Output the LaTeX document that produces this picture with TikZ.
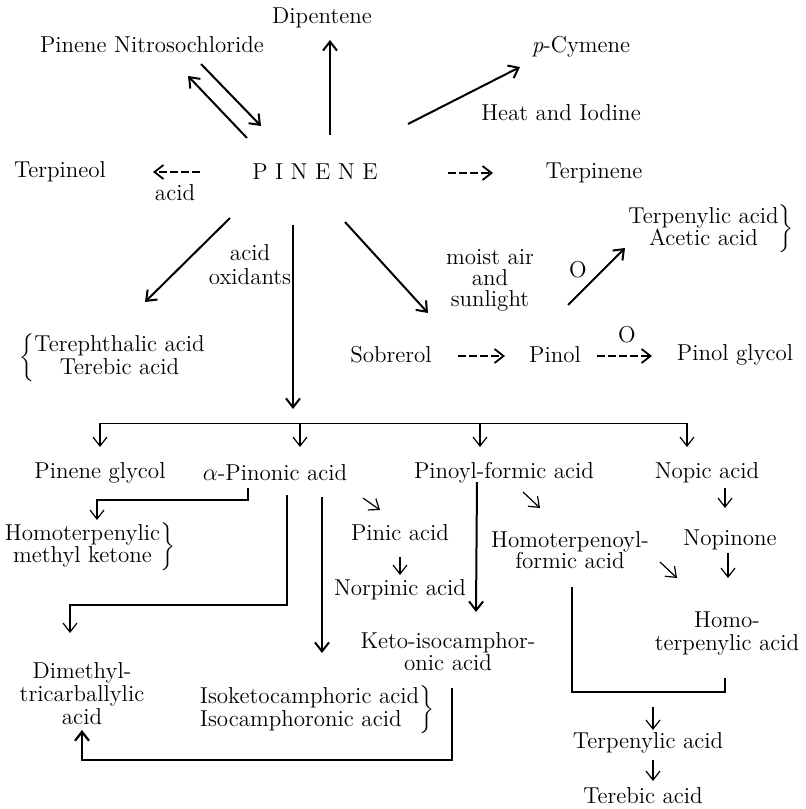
\documentclass[tikz,border=0pt]{standalone}
\usepackage{tikz}
\usetikzlibrary{arrows.meta,calc}

\begin{document}
\begin{tikzpicture}[
  x=0.5pt, y=-0.5pt,
  >={Straight Barb[length=4.5pt,width=7pt]},
  every node/.style={font=\fontsize{11.5}{11.5}\selectfont, inner sep=0pt, align=center},
  flowarrow/.style={->, line width=1pt},
  dasharrow/.style={->, line width=0.9pt, dash pattern=on 4pt off 1.5pt},
  thinline/.style={line width=0.5pt},
  thinarrow/.style={->, line width=0.6pt},
  bracketline/.style={line width=1.1pt}
]
\useasboundingbox (0,0) rectangle (806,809);

% Top - pinene and its direct products
\node (pinene) at (315,172) {P I N E N E};
\node (dipentene) at (322,18) {Dipentene};
\node (nitroso) at (152,45) {Pinene Nitrosochloride};
\node (cymene) at (581,47) {\textit{p}-Cymene};
\node (heat) at (561,113) {Heat and Iodine};
\node (terpinene) at (594,173) {Terpinene};
\node (terpineol) at (60,172) {Terpineol};
\node (acidlbl) at (175,193) {acid};

% Middle - oxidation and sunlight
\node (oxid) at (250,265) [font=\fontsize{11.5}{12}\selectfont] {acid\\oxidants};
\node (tereph) at (112,358) {$\biggl\{$\begin{tabular}{@{}c@{}}Terephthalic acid\\Terebic acid\end{tabular}};
\node (moist) at (490,280) [font=\fontsize{11.5}{10.5}\selectfont] {moist air\\and\\sunlight};
\node (sobrerol) at (391,355) {Sobrerol};
\node (pinol) at (555,355) {Pinol};
\node (pinolgly) at (735,355) {Pinol glycol};
\node (oxA) at (578,270) {O};
\node (oxB) at (627,335) {O};
\node (terpacet) at (711,229) [font=\fontsize{11.5}{9.5}\selectfont] {\begin{tabular}{@{}c@{}}Terpenylic acid\\Acetic acid\end{tabular}$\biggr\}$};

% Lower - products of the oxidation
\coordinate (split) at (293,423);
\coordinate (brL) at (100,423);
\coordinate (brR) at (687,423);
\node (pglycol) at (100,473) {Pinene glycol};
\node (pinonic) at (275,473) {$\alpha$-Pinonic acid};
\node (pinoyl) at (504,473) {Pinoyl-formic acid};
\node (nopic) at (707,473) {Nopic acid};
\node (homoket) at (90,547) [font=\fontsize{11.5}{10.5}\selectfont] {\begin{tabular}{@{}c@{}}Homoterpenylic\\methyl ketone\end{tabular}$\biggr\}$};
\node (pinic) at (400,533) {Pinic acid};
\node (norpinic) at (400,590) {Norpinic acid};
\node (homoformic) at (570,550) [font=\fontsize{11.5}{10.5}\selectfont] {Homoterpenoyl-\\formic acid};
\node (nopinone) at (730,540) {Nopinone};
\node (homoterp) at (727,633) {Homo-\\terpenylic acid};
\node (keto) at (448,652) [font=\fontsize{11.5}{11}\selectfont] {Keto-isocamphor-\\onic acid};
\node (dimethyl) at (82,694) {Dimethyl-\\tricarballylic\\acid};
\node (isoketo) at (317,710) [font=\fontsize{11.5}{11.5}\selectfont] {\begin{tabular}{@{}l@{}}Isoketocamphoric acid\\Isocamphoronic acid\end{tabular}$\biggr\}$};
\node (terpenylic) at (648,743) {Terpenylic acid};
\node (terebic) at (643,796) {Terebic acid};

% Arrows out of pinene
\draw[flowarrow] ($(pinene)+(15,-37)$) -- ($(dipentene)+(8,22)$);
\draw[flowarrow] ($(pinene)+(-68,-34)$) -- ($(nitroso)+(36,31)$);
\draw[flowarrow] ($(nitroso)+(49,19)$) -- ($(pinene)+(-54,-46)$);
\draw[flowarrow] ($(pinene)+(93,-48)$) -- ($(cymene)+(-61,20)$);
\draw[dasharrow] ($(pinene)+(133,1)$) -- ($(terpinene)+(-101,0)$);
\draw[dasharrow] ($(pinene)+(-115,0)$) -- ($(terpineol)+(93,0)$);
\draw[flowarrow] ($(pinene)+(-85,46)$) -- ($(tereph)+(33,-56)$);
\draw[flowarrow] ($(pinene)+(-22,53)$) -- ($(split)+(0,-14)$);
\draw[flowarrow] ($(pinene)+(30,50)$) -- ($(sobrerol)+(37,-42)$);

% Sobrerol - pinol chain
\draw[flowarrow] ($(pinol)+(13,-50)$) -- ($(terpacet)+(-86,19)$);
\draw[dasharrow] ($(sobrerol)+(67,1)$) -- ($(pinol)+(-50,1)$);
\draw[dasharrow] ($(pinol)+(42,1)$) -- ($(pinolgly)+(-83,1)$);

% Branch line
\draw[thinline] (brL) -- (brR);
\draw[thinarrow] (brL) -- ($(pglycol)+(0,-26)$);
\draw[thinarrow] ($(pinonic)+(25,-50)$) -- ($(pinonic)+(25,-26)$);
\draw[thinarrow] ($(pinoyl)+(-24,-50)$) -- ($(pinoyl)+(-24,-26)$);
\draw[thinarrow] (brR) -- ($(nopic)+(-20,-26)$);

% From alpha-pinonic acid
\draw[thinarrow] ($(pinonic)+(-27,15)$) |- ($(homoket)+(7,-47)$) -- ($(homoket)+(7,-27)$);
\draw[thinarrow] ($(pinonic)+(12,22)$) |- ($(dimethyl)+(-12,-89)$) -- ($(dimethyl)+(-12,-61)$);
\draw[flowarrow] ($(pinonic)+(47,24)$) -- ($(isoketo)+(5,-57)$);
\draw[thinarrow] ($(pinonic)+(88,25)$) -- ($(pinic)+(-20,-23)$);
\draw[thinarrow] ($(pinic)+(0,24)$) -- ($(norpinic)+(0,-15)$);

% From pinoyl-formic and nopic acid
\draw[flowarrow] ($(pinoyl)+(-27,9)$) -- ($(keto)+(28,-40)$);
\draw[thinarrow] ($(pinoyl)+(19,19)$) -- ($(homoformic)+(-30,-42)$);
\draw[thinarrow] ($(nopic)+(18,15)$) -- ($(nopinone)+(-5,-32)$);
\draw[thinarrow] ($(nopinone)+(-2,13)$) -- ($(homoterp)+(1,-55)$);
\draw[thinarrow] ($(homoformic)+(90,12)$) -- ($(homoterp)+(-50,-55)$);

% Brackets at the bottom
\draw[bracketline] ($(homoformic)+(2,37)$) |- ($(homoterp)+(-2,59)$) -- ($(homoterp)+(-2,45)$);
\draw[thinarrow] ($(terpenylic)+(5,-36)$) -- ($(terpenylic)+(5,-13)$);
\draw[thinarrow] ($(terpenylic)+(5,17)$) -- ($(terebic)+(10,-15)$);
\draw[bracketline,->] ($(keto)+(4,36)$) |- ($(dimethyl)+(0,66)$) -- ($(dimethyl)+(0,36)$);

\end{tikzpicture}
\end{document}
